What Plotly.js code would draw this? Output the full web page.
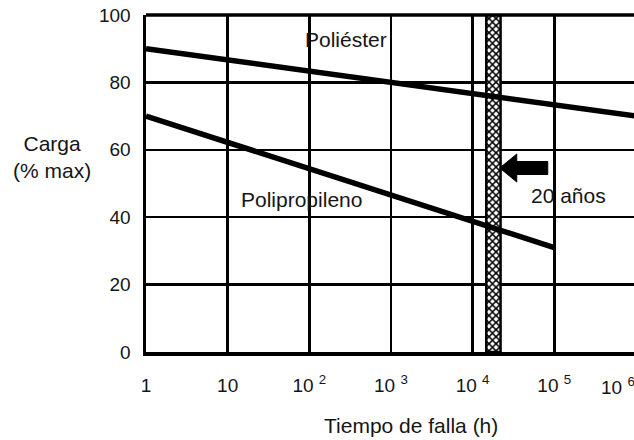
<!DOCTYPE html>
<html><head><meta charset="utf-8">
<script src="https://cdn.plot.ly/plotly-3.0.1.min.js"></script>
<style>html,body{margin:0;padding:0;overflow:hidden;background:#fff}</style>
</head><body>
<div id="chart" style="width:640px;height:440px"></div>
<script>
// Data
const tickVals = [1, 10, 100, 1000, 10000, 100000, 1000000];
const tickLabels = ["1", "10", "10 <sup>2</sup>", "10 <sup>3</sup>", "10 <sup>4</sup>", "10 <sup>5</sup>", "10 <sup>6</sup>"];
const yTickVals = [0, 20, 40, 60, 80, 100];
const poliesterX = [1, 1000000];
const poliesterY = [90, 70];
const polipropX = [1, 100000];
const polipropY = [70, 31];
const bandX = [14700, 22000];   // 20 años band
const bandY = [0, 100];
const arrowAt = [21500, 54.6];

const xRange = [0, 6.05];
const txt = {family: "Liberation Sans, Arial, sans-serif", size: 21, color: "#151515"};
const tickFont = {family: "Liberation Sans, Arial, sans-serif", size: 19, color: "#151515"};

const traces = [
  {
    x: [bandX[0], bandX[1], bandX[1], bandX[0], bandX[0]],
    y: [bandY[0], bandY[0], bandY[1], bandY[1], bandY[0]],
    type: "scatter", mode: "lines", fill: "toself",
    fillcolor: "white",
    fillpattern: {shape: "x", fgcolor: "black", bgcolor: "white", size: 5, solidity: 0.5},
    line: {color: "black", width: 2.5}, hoverinfo: "skip", showlegend: false
  },
  {x: poliesterX, y: poliesterY, type: "scatter", mode: "lines",
   line: {color: "black", width: 5.5}, showlegend: false},
  {x: polipropX, y: polipropY, type: "scatter", mode: "lines",
   line: {color: "black", width: 5.5}, showlegend: false}
];

const paperX = v => (Math.log10(v) - xRange[0]) / (xRange[1] - xRange[0]);
const nShown = tickVals.length - 1;  // last label is cut at the edge, drawn separately

const layout = {
  width: 640, height: 440,
  margin: {l: 146, r: 0, t: 15, b: 88},
  paper_bgcolor: "white", plot_bgcolor: "white",
  font: txt,
  showlegend: false,
  xaxis: {
    type: "log", range: xRange,
    tickvals: tickVals.slice(0, nShown), ticktext: tickLabels.slice(0, nShown),
    showgrid: true, gridcolor: "black", gridwidth: 2.5,
    showline: true, linecolor: "black", linewidth: 3.5, mirror: false,
    ticks: "", ticklabelstandoff: 14,
    zeroline: false, automargin: false,
    tickfont: tickFont
  },
  yaxis: {
    range: [0, 100], tickvals: yTickVals,
    showgrid: true, gridcolor: "black", gridwidth: 2.5,
    showline: true, linecolor: "black", linewidth: 3.5,
    ticks: "", ticklabelstandoff: 8, zeroline: false, automargin: false,
    tickfont: tickFont
  },
  shapes: [
    {type: "line", xref: "paper", yref: "paper", x0: 0, x1: 1, y0: 1, y1: 1,
     line: {color: "black", width: 3.5}},
    {type: "path", xref: "paper", yref: "y", xsizemode: "pixel", ysizemode: "pixel",
     xanchor: paperX(arrowAt[0]), yanchor: arrowAt[1],
     path: "M0,0 L17,-14 L17,-6.5 L48,-6.5 L48,6.5 L17,6.5 L17,14 Z",
     fillcolor: "black", line: {color: "black", width: 1}}
  ],
  annotations: [
    {text: tickLabels[nShown], xref: "paper", yref: "paper", x: 0.917, y: -0.06,
     xanchor: "left", yanchor: "top", showarrow: false, font: tickFont},
    {text: "Carga<br>(% max)", xref: "paper", yref: "paper", x: -0.19, y: 0.579,
     xanchor: "center", yanchor: "middle", showarrow: false, font: txt},
    {text: "Tiempo de falla (h)", xref: "paper", yref: "paper", x: 0.536, y: -0.217,
     xanchor: "center", yanchor: "middle", showarrow: false, font: txt},
    {text: "Poliéster", x: Math.log10(280), y: 92.6, showarrow: false, font: txt},
    {text: "Polipropileno", x: Math.log10(80), y: 45.2, showarrow: false, font: txt},
    {text: "20 años", x: Math.log10(150000), y: 46.5, showarrow: false, font: txt}
  ]
};

Plotly.newPlot("chart", traces, layout, {displayModeBar: false, staticPlot: true});
</script>
</body></html>
